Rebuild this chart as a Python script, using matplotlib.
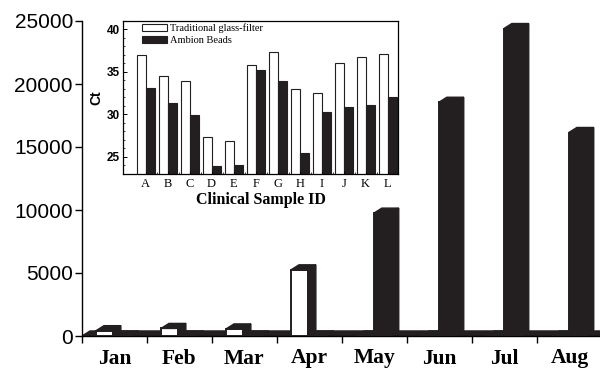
import matplotlib
matplotlib.use("Agg")
import matplotlib.pyplot as plt
from matplotlib.patches import Polygon, Rectangle, Patch

# ---------------- data ----------------
months = ["Jan", "Feb", "Mar", "Apr", "May", "Jun", "Jul", "Aug"]
glass_main = [420, 600, 560, 5250, 0, 0, 0, 0]
beads_main = [0, 0, 0, 0, 9750, 18550, 24400, 16150]

samples = ["A", "B", "C", "D", "E", "F", "G", "H", "I", "J", "K", "L"]
glass_ct = [37.0, 34.5, 33.9, 27.3, 26.9, 35.8, 37.3, 33.0, 32.5, 36.0, 36.8, 37.1]
beads_ct = [33.1, 31.3, 29.9, 23.9, 24.1, 35.2, 33.9, 25.5, 30.3, 30.85, 31.1, 32.1]

DARK = "#231f20"
SERIF = ["Liberation Serif", "DejaVu Serif"]
SANS = ["Liberation Sans", "DejaVu Sans"]

fig = plt.figure(figsize=(6, 3.71), dpi=100)

# ---------------- main pseudo-3D bar chart ----------------
ax = fig.add_axes([82 / 600, 35 / 371, 520 / 600, 315 / 371])
ax.set_xlim(0, len(months))
ax.set_ylim(0, 25000)

w = 0.26      # front face width
dx = 0.123    # depth offset in x
dy = 400      # depth offset in y


def bar3d(x0, h, face):
    ax.add_patch(Rectangle((x0, 0), w, h, facecolor=face, edgecolor=DARK,
                           linewidth=1.4, zorder=3))
    top = [(x0, h), (x0 + dx, h + dy), (x0 + w + dx, h + dy), (x0 + w, h)]
    side = [(x0 + w, 0), (x0 + w, h), (x0 + w + dx, h + dy), (x0 + w + dx, dy)]
    ax.add_patch(Polygon(top, closed=True, facecolor=DARK, edgecolor=DARK,
                         linewidth=1, zorder=3))
    ax.add_patch(Polygon(side, closed=True, facecolor=DARK, edgecolor=DARK,
                         linewidth=1, zorder=3))


# floor
n = len(months)
ax.add_patch(Polygon([(0, 0), (dx, dy), (n + dx, dy), (n, 0)], closed=True,
                     facecolor=DARK, edgecolor=DARK, linewidth=1, zorder=2))

for i in range(n):
    bar3d(i + 0.215, glass_main[i], "white")
    bar3d(i + 0.49, beads_main[i], DARK)

ax.spines["top"].set_visible(False)
ax.spines["right"].set_visible(False)
ax.spines["left"].set_linewidth(1.0)
ax.spines["bottom"].set_linewidth(1.0)

ax.set_yticks([0, 5000, 10000, 15000, 20000, 25000])
ax.set_yticklabels(["0", "5000", "10000", "15000", "20000", "25000"],
                   family=SANS, fontsize=15)
ax.tick_params(axis="y", direction="out", length=5, width=1, pad=1.5)

ax.set_xticks(range(n + 1))
ax.set_xticklabels([])
ax.tick_params(axis="x", which="major", direction="out", length=5, width=1)
ax.set_xticks([i + 0.5 for i in range(n)], minor=True)
ax.set_xticklabels(months, minor=True, family=SERIF, fontsize=15.5,
                   fontweight="bold")
ax.tick_params(axis="x", which="minor", length=0, pad=9)

# ---------------- inset ----------------
axi = fig.add_axes([123 / 600, (371 - 174) / 371, 275 / 600, 153 / 371])
xs = list(range(len(samples)))
bw = 0.41
axi.bar([x - bw / 2 for x in xs], glass_ct, width=bw, color="white",
        edgecolor=DARK, linewidth=0.8, label="Traditional glass-filter")
axi.bar([x + bw / 2 for x in xs], beads_ct, width=bw, color=DARK,
        edgecolor=DARK, linewidth=0.8, label="Ambion Beads")
axi.set_ylim(23, 41)
axi.set_xlim(-1.03, 11.47)

for s in axi.spines.values():
    s.set_linewidth(0.9)

axi.set_yticks([25, 30, 35, 40])
axi.set_yticklabels(["25", "30", "35", "40"], family=SANS, fontsize=8.5,
                    fontweight="bold")
axi.set_yticks(range(23, 42), minor=True)
axi.tick_params(axis="y", which="major", direction="in", length=3, width=0.7,
                pad=2)
axi.tick_params(axis="y", which="minor", direction="in", length=1.5,
                width=0.5)
axi.set_xticks(xs)
axi.set_xticklabels(samples, family=SERIF, fontsize=9)
axi.set_xticks([x + 0.5 for x in xs[:-1]], minor=True)
axi.tick_params(axis="x", which="major", direction="in", length=2, width=0.6,
                pad=3)
axi.tick_params(axis="x", which="minor", direction="in", length=1.5,
                width=0.5)

axi.set_ylabel("Ct", family=SANS, fontsize=10, fontweight="bold", labelpad=3)
axi.set_xlabel("Clinical Sample ID", family=SERIF, fontsize=11.5,
               fontweight="bold", labelpad=1)

handles = [Patch(facecolor="white", edgecolor=DARK, linewidth=0.8),
           Patch(facecolor=DARK, edgecolor=DARK, linewidth=0.8)]
axi.legend(handles, ["Traditional glass-filter", "Ambion Beads"],
           loc="upper left", bbox_to_anchor=(0.07, 0.985), frameon=False,
           prop={"family": SERIF, "size": 7.5}, handlelength=2.4,
           handleheight=0.75, handletextpad=0.3, labelspacing=0.25,
           borderpad=0, borderaxespad=0)

fig.savefig("out.png", dpi=100)
plt.close(fig)
